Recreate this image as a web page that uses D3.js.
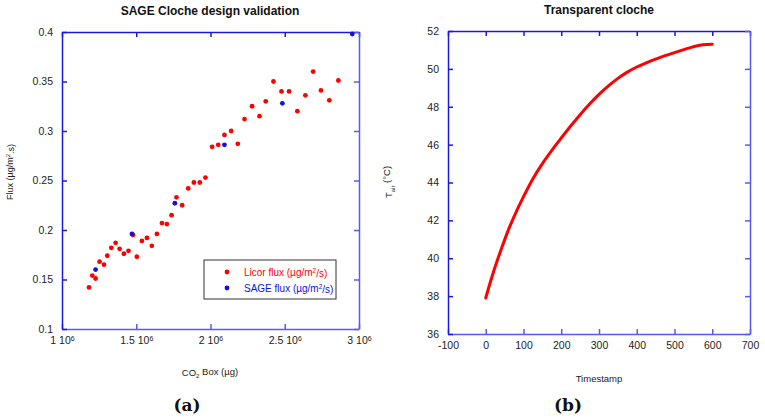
<!DOCTYPE html>
<html>
<head>
<meta charset="utf-8">
<script src="https://cdn.jsdelivr.net/npm/d3@7"></script>
<style>
  body { margin: 0; background: #fff; }
  text { font-family: "Liberation Sans", Arial, sans-serif; }
</style>
</head>
<body>
<div id="chart"></div>
<script>
// (a) Licor flux vs CO2 box
var licorCO2 = [1.182e6, 1.204e6, 1.226e6, 1.253e6, 1.283e6, 1.305e6, 1.332e6, 1.361e6, 1.388e6, 1.417e6,
    1.448e6, 1.478e6, 1.504e6, 1.538e6, 1.572e6, 1.605e6, 1.639e6, 1.673e6, 1.706e6, 1.738e6,
    1.771e6, 1.809e6, 1.850e6, 1.888e6, 1.928e6, 1.966e6, 2.011e6, 2.052e6, 2.094e6, 2.139e6,
    2.184e6, 2.229e6, 2.280e6, 2.330e6, 2.372e6, 2.424e6, 2.478e6, 2.529e6, 2.585e6, 2.639e6,
    2.691e6, 2.744e6, 2.800e6, 2.861e6];
var licorFlux = [0.142, 0.154, 0.151, 0.168, 0.165, 0.174, 0.182, 0.187, 0.181, 0.176,
    0.179, 0.195, 0.173, 0.189, 0.192, 0.184, 0.196, 0.207, 0.206, 0.215,
    0.233, 0.225, 0.242, 0.248, 0.248, 0.253, 0.284, 0.286, 0.296, 0.300,
    0.287, 0.312, 0.325, 0.315, 0.330, 0.350, 0.340, 0.340, 0.320, 0.336,
    0.360, 0.341, 0.331, 0.351];
var sageCO2 = [1.226e6, 1.471e6, 1.760e6, 2.094e6, 2.484e6, 2.955e6];
var sageFlux = [0.160, 0.196, 0.227, 0.286, 0.328, 0.398];
var fluxTicks = [0.1, 0.15, 0.2, 0.25, 0.3, 0.35, 0.4];
var co2Ticks = [1e6, 1.5e6, 2e6, 2.5e6, 3e6];

// (b) air temperature in the transparent cloche
var timeS = [0, 10, 20, 30, 45, 60, 75, 100, 125, 150, 175, 200, 225, 250, 275, 300,
    325, 350, 375, 400, 425, 450, 475, 500, 525, 550, 575, 600];
var tempAir = [37.9, 38.6, 39.25, 39.85, 40.7, 41.5, 42.2, 43.25, 44.2, 45.0, 45.7, 46.35, 46.98, 47.58, 48.14, 48.65,
    49.1, 49.5, 49.83, 50.1, 50.32, 50.52, 50.7, 50.86, 51.02, 51.17, 51.28, 51.3];
var timeTicks = [-100, 0, 100, 200, 300, 400, 500, 600, 700];
var tempTicks = [36, 38, 40, 42, 44, 46, 48, 50, 52];

var svg = d3.select("#chart").append("svg")
    .attr("width", 765)
    .attr("height", 419);

var darkBlue = "#1a1adf", lightBlue = "#5a5aee";

function frame(g, x, y, w, h, xTicks, yTicks) {
    var b = g.append("g").attr("transform", "translate(0," + h + ")")
        .call(d3.axisBottom(x).tickValues(xTicks).tickSize(-5).tickSizeOuter(0).tickPadding(8)
            .tickFormat(function (d) { return String(d); }));
    var t = g.append("g")
        .call(d3.axisTop(x).tickValues(xTicks).tickSize(-5).tickSizeOuter(0).tickFormat(""));
    var l = g.append("g")
        .call(d3.axisLeft(y).tickValues(yTicks).tickSize(-5).tickSizeOuter(0).tickPadding(9)
            .tickFormat(function (d) { return String(d); }));
    var r = g.append("g").attr("transform", "translate(" + w + ",0)")
        .call(d3.axisRight(y).tickValues(yTicks).tickSize(-5).tickSizeOuter(0).tickFormat(""));
    [b, r].forEach(function (a) { a.selectAll("path, line").attr("stroke", lightBlue).attr("stroke-width", 1.5); });
    [t, l].forEach(function (a) { a.selectAll("path, line").attr("stroke", darkBlue).attr("stroke-width", 1.5); });
    [b, l].forEach(function (a) {
        a.selectAll("text").attr("fill", "#222").style("font-size", "10.5px")
            .style("font-family", "'Liberation Sans', Arial, sans-serif");
    });
    return { bottom: b, left: l };
}

// ---------- (a) ----------
var aW = 297, aH = 297;
var ga = svg.append("g").attr("transform", "translate(62,32)");

var xa = d3.scaleLinear().domain([1e6, 3e6]).range([0, aW]);
var ya = d3.scaleLinear().domain([0.1, 0.4]).range([aH, 0]);

var fa = frame(ga, xa, ya, aW, aH, co2Ticks, fluxTicks);
fa.bottom.selectAll(".tick text").text(null).each(function (d) {
    var t = d3.select(this);
    t.append("tspan").text(d3.format("~g")(d / 1e6) + " 10");
    t.append("tspan").attr("dy", "-0.45em").style("font-size", "7px").text("6");
});

ga.selectAll(".licor")
    .data(licorCO2)
    .enter().append("circle")
    .attr("cx", function (d) { return xa(d); })
    .attr("cy", function (d, i) { return ya(licorFlux[i]); })
    .attr("r", 2.4)
    .attr("fill", "#ff0000");

ga.selectAll(".sage")
    .data(sageCO2)
    .enter().append("circle")
    .attr("cx", function (d) { return xa(d); })
    .attr("cy", function (d, i) { return ya(sageFlux[i]); })
    .attr("r", 2.4)
    .attr("fill", "#1212d8");

// legend
var leg = ga.append("g").attr("transform", "translate(142,228)");
leg.append("rect").attr("width", 132).attr("height", 39)
    .attr("fill", "#fff").attr("stroke", "#333").attr("stroke-width", 1);
var legItems = [["Licor flux (\u00b5g/m", "/s)", "#ff0000"], ["SAGE flux (\u00b5g/m", "/s)", "#1212d8"]];
legItems.forEach(function (it, i) {
    leg.append("circle").attr("cx", 23).attr("cy", 12 + i * 16).attr("r", 2.4).attr("fill", it[2]);
    var tx = leg.append("text").attr("x", 40).attr("y", 15.5 + i * 16)
        .attr("fill", it[2]).style("font-size", "10px");
    tx.append("tspan").text(it[0]);
    tx.append("tspan").attr("dy", "-0.45em").style("font-size", "6.5px").text("2");
    tx.append("tspan").attr("dy", "0.45em").text(it[1]);
});

svg.append("text").attr("x", 210).attr("y", 15).attr("text-anchor", "middle")
    .style("font-size", "12px").style("font-weight", "bold").attr("fill", "#111")
    .text("SAGE Cloche design validation");

var yla = svg.append("text").attr("transform", "translate(13,172) rotate(-90)")
    .attr("text-anchor", "middle").style("font-size", "9px").attr("fill", "#222");
yla.append("tspan").text("Flux (\u00b5g/m");
yla.append("tspan").attr("dy", "-0.45em").style("font-size", "6px").text("2");
yla.append("tspan").attr("dy", "0.45em").text(".s)");

var xla = svg.append("text").attr("x", 210).attr("y", 376)
    .attr("text-anchor", "middle").style("font-size", "9.5px").attr("fill", "#222");
xla.append("tspan").text("CO");
xla.append("tspan").attr("dy", "0.4em").style("font-size", "6px").text("2");
xla.append("tspan").attr("dy", "-0.4em").text(" Box (\u00b5g)");

svg.append("text").attr("x", 187).attr("y", 411).attr("text-anchor", "middle")
    .style("font-family", "'DejaVu Serif', 'Liberation Serif', serif")
    .style("font-size", "17px").style("font-weight", "bold").attr("fill", "#111").text("(a)");

// ---------- (b) ----------
var bW = 302, bH = 303;
var gb = svg.append("g").attr("transform", "translate(448,31)");

var xb = d3.scaleLinear().domain([-100, 700]).range([0, bW]);
var yb = d3.scaleLinear().domain([36, 52]).range([bH, 0]);

frame(gb, xb, yb, bW, bH, timeTicks, tempTicks);

var tempLine = d3.line()
    .curve(d3.curveMonotoneX)
    .x(function (d) { return xb(d); })
    .y(function (d, i) { return yb(tempAir[i]); });

gb.append("path")
    .datum(timeS)
    .attr("fill", "none")
    .attr("stroke", "#ff0000")
    .attr("stroke-width", 3)
    .attr("stroke-linecap", "round")
    .attr("d", tempLine);

svg.append("text").attr("x", 599).attr("y", 14).attr("text-anchor", "middle")
    .style("font-size", "12px").style("font-weight", "bold").attr("fill", "#111")
    .text("Transparent cloche");

var ylb = svg.append("text").attr("transform", "translate(392,182) rotate(-90)")
    .attr("text-anchor", "middle").style("font-size", "9.5px").attr("fill", "#222");
ylb.append("tspan").text("T");
ylb.append("tspan").attr("dy", "0.45em").style("font-size", "6px").text("air");
ylb.append("tspan").attr("dy", "-0.45em").text(" (\u00b0C)");

svg.append("text").attr("x", 599).attr("y", 382).attr("text-anchor", "middle")
    .style("font-size", "9.5px").attr("fill", "#222").text("Timestamp");

svg.append("text").attr("x", 568).attr("y", 411).attr("text-anchor", "middle")
    .style("font-family", "'DejaVu Serif', 'Liberation Serif', serif")
    .style("font-size", "17px").style("font-weight", "bold").attr("fill", "#111").text("(b)");
</script>
</body>
</html>
